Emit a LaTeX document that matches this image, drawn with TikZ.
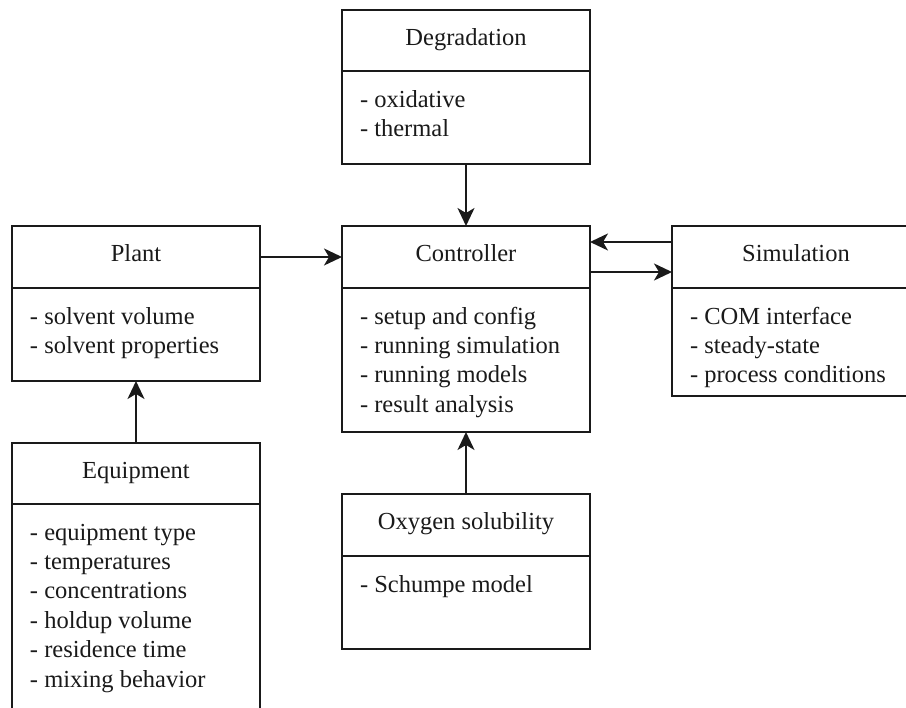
\documentclass[tikz,border=0pt]{standalone}
\usepackage{fontspec}
\setmainfont{Liberation Serif}
\usetikzlibrary{arrows.meta}
\definecolor{ink}{HTML}{1A1A1A}
\begin{document}
\begin{tikzpicture}[x=1pt,y=-1pt,
  every node/.style={font=\fontsize{24.5}{29.4}\selectfont, text=ink, outer sep=0pt},
  hbox/.style={draw=ink, line width=2pt, minimum width=248pt, minimum height=62pt,
    anchor=north west, inner sep=0pt, text height=16pt, text depth=6pt},
  bbox/.style={draw=ink, line width=2pt, minimum width=248pt, anchor=north west, inner sep=0pt},
  btext/.style={anchor=north west, align=left, inner sep=0pt},
  conn/.style={draw=ink, line width=2pt, -{Stealth[length=18pt,width=17pt,inset=5pt]}}]
\useasboundingbox (0,0) rectangle (906,708);
\clip (0,0) rectangle (906,708);
% Degradation
\node[hbox, minimum height=61pt] (degh) at (342,10) {Degradation};
\node[bbox, minimum height=93pt] (degb) at (342,71) {};
\node[btext] (degt) at (360,86.5) {\strut- oxidative\\- thermal};
% Plant
\node[hbox] (planth) at (12,226) {Plant};
\node[bbox, minimum height=93pt] (plantb) at (12,288) {};
\node[btext] (plantt) at (30,303.5) {\strut- solvent volume\\- solvent properties};
% Controller
\node[hbox] (ctrlh) at (342,226) {Controller};
\node[bbox, minimum height=144pt] (ctrlb) at (342,288) {};
\node[btext] (ctrlt) at (360,303.5) {\strut- setup and config\\- running simulation\\- running models\\- result analysis};
% Simulation
\node[hbox] (simh) at (672,226) {Simulation};
\node[bbox, minimum height=108pt] (simb) at (672,288) {};
\node[btext] (simt) at (690,303.5) {\strut- COM interface\\- steady-state\\- process conditions};
% Equipment
\node[hbox, minimum height=61pt] (equh) at (12,443) {Equipment};
\node[bbox, minimum height=230pt] (equb) at (12,504) {};
\node[btext] (equt) at (30,519.5) {\strut- equipment type\\- temperatures\\- concentrations\\- holdup volume\\- residence time\\- mixing behavior};
% Oxygen solubility
\node[hbox] (oxyh) at (342,494) {Oxygen solubility};
\node[bbox, minimum height=93pt] (oxyb) at (342,556) {};
\node[btext] (oxyt) at (360,571.5) {\strut- Schumpe model};
% connectors
\draw[conn] (degb.south) -- (ctrlh.north);
\draw[conn] (planth.east) -- (ctrlh.west);
\draw[conn] ([yshift=15pt]simh.west) -- ([yshift=15pt]ctrlh.east);
\draw[conn] ([yshift=-15pt]ctrlh.east) -- ([yshift=-15pt]simh.west);
\draw[conn] (equh.north) -- (plantb.south);
\draw[conn] (oxyh.north) -- (ctrlb.south);
\end{tikzpicture}
\end{document}
